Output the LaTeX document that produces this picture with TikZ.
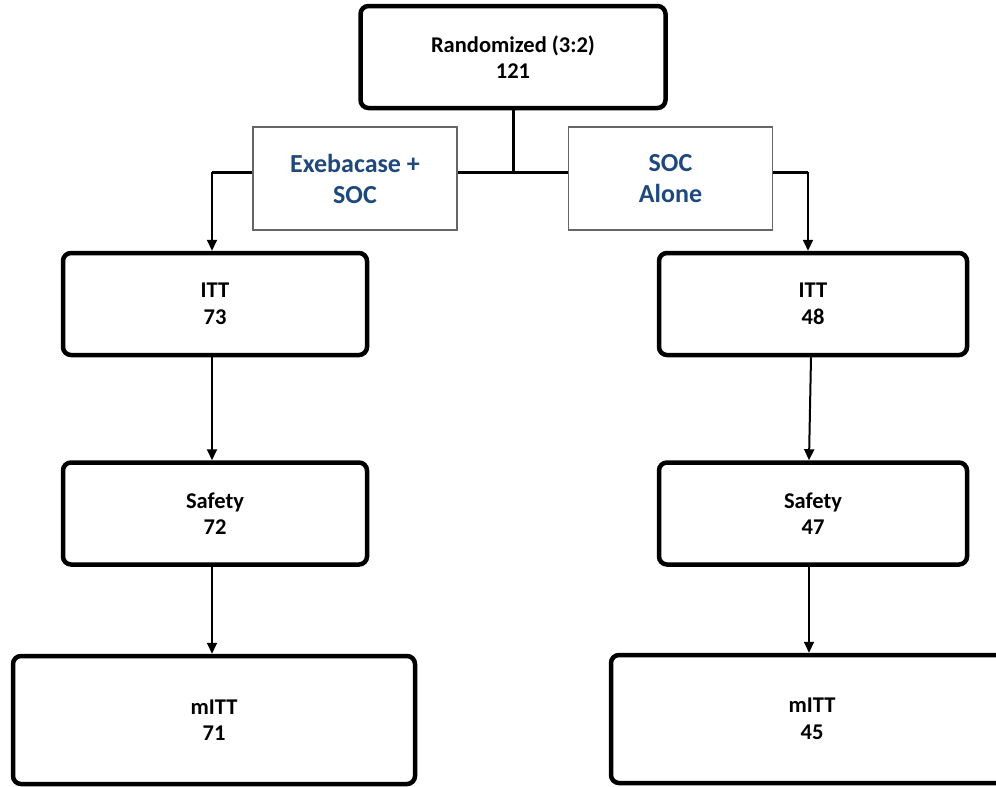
\documentclass[tikz,border=0pt]{standalone}
\usepackage{fontspec}
\setmainfont{Carlito}
\usepackage{xcolor}
\usepackage{tikz}
\usetikzlibrary{arrows.meta}
\definecolor{armblue}{HTML}{1F497D}
\tikzset{
  every picture/.style={x=1pt,y=-1pt},
  flow/.style={-{Triangle[length=11pt,width=10pt]},line width=2pt},
}

\begin{document}
\begin{tikzpicture}
		\tikzstyle{countbox}=[draw,line width=4.5pt,rounded corners=8pt,fill=white,align=center,font=\fontsize{22.5}{26.5}\selectfont\bfseries]
		\tikzstyle{armbox}=[draw=black!60,line width=1.2pt,fill=white,align=center,minimum width=204pt,minimum height=103pt,text=armblue,font=\fontsize{26}{31}\selectfont\bfseries]
		\useasboundingbox (0,0) rectangle (996,787);

		\node[countbox,minimum width=305pt,minimum height=102pt] (rand) at (513,57) {Randomized (3:2)\\121};

		\coordinate (split) at (513,172);
		\coordinate (lft) at (212,172);
		\coordinate (rgt) at (808,172);

		% connector behind the arm boxes
		\draw[line width=3pt] (rand.south) -- (split);
		\draw[line width=3pt] (lft) -- (rgt);

		\node[armbox] (exeb) at (355,178.5) {Exebacase +\\SOC};
		\node[armbox] (socal) at (670.5,178.5) {SOC\\Alone};

		\node[countbox,minimum width=304pt,minimum height=102pt] (itta) at (215,304) {ITT\\73};
		\node[countbox,minimum width=308pt,minimum height=102pt] (ittb) at (813,304) {ITT\\48};
		\node[countbox,minimum width=304pt,minimum height=102pt] (safa) at (215,513.5) {Safety\\72};
		\node[countbox,minimum width=308pt,minimum height=102pt] (safb) at (813,513.5) {Safety\\47};
		\node[countbox,minimum width=402pt,minimum height=128pt] (mitta) at (214,720) {mITT\\71};
		\node[countbox,minimum width=402pt,minimum height=128pt] (mittb) at (812,719) {mITT\\45};

		\draw[flow] (lft) -- (lft |- itta.north);
		\draw[flow] (rgt) -- (rgt |- ittb.north);
		\draw[flow] (lft |- itta.south) -- (lft |- safa.north);
		\draw[flow] (811,0 |- ittb.south) -- (809,0 |- safb.north);
		\draw[flow] (lft |- safa.south) -- (lft |- mitta.north);
		\draw[flow] (809,0 |- safb.south) -- (809,0 |- mittb.north);

	\end{tikzpicture}
\end{document}
